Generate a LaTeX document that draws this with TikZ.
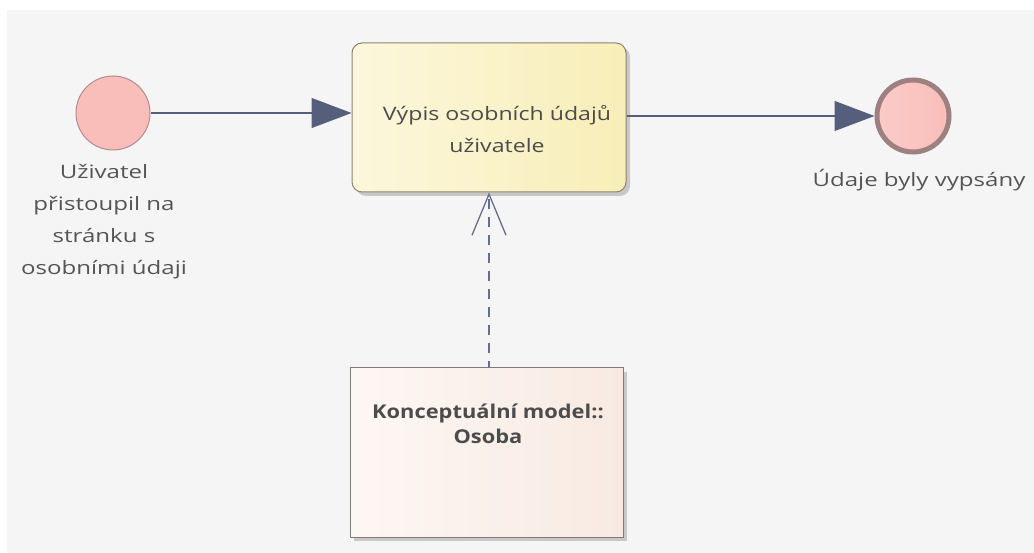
\documentclass[tikz,border=0pt]{standalone}
\usepackage{fontspec}
\setmainfont{Open Sans}
\newfontfamily\widefont[FakeStretch=1.3]{Open Sans}
\newfontfamily\taskfont[FakeStretch=1.25]{Open Sans}
\newfontfamily\datafont[FakeStretch=1.15]{Open Sans}
\usetikzlibrary{arrows.meta,shadows}
\definecolor{panel}{HTML}{F5F5F5}
\definecolor{flow}{HTML}{555F7C}
\definecolor{evfill}{HTML}{F9BEBA}
\definecolor{evline}{HTML}{B08C8C}
\definecolor{endline}{HTML}{9E8080}
\definecolor{taskA}{HTML}{FCF7DC}
\definecolor{taskB}{HTML}{F8EEB8}
\definecolor{taskline}{HTML}{8E8272}
\definecolor{dataA}{HTML}{FDF7F4}
\definecolor{dataB}{HTML}{F8EAE2}
\definecolor{dataline}{HTML}{857878}
\definecolor{txt}{HTML}{555555}
\tikzset{
  event/.style={circle, minimum size=74pt, inner sep=0pt, fill=evfill, draw=evline, line width=1pt},
  endevent/.style={circle, minimum size=72pt, inner sep=0pt, left color=evfill!80!white, right color=evfill, draw=endline, line width=5pt},
  task/.style={rectangle, rounded corners=10pt, minimum width=274pt, minimum height=149pt,
    left color=taskA, right color=taskB, draw=taskline, line width=1pt,
    drop shadow={shadow xshift=4pt, shadow yshift=-4pt, fill=black, opacity=0.18}},
  dataobj/.style={rectangle, minimum width=273pt, minimum height=169pt,
    left color=dataA, right color=dataB, draw=dataline, line width=1pt,
    drop shadow={shadow xshift=4pt, shadow yshift=-4pt, fill=black, opacity=0.18}},
  label/.style={text=txt, font=\widefont\fontsize{18.5}{32}\selectfont, align=center},
  seqflow/.style={draw=flow, line width=1.2pt, -{Triangle[length=40pt, width=30pt, fill=flow]}},
  assoc/.style={draw=flow!90, line width=1.3pt, dash pattern=on 10pt off 8pt,
    -{Straight Barb[length=41pt, width=34pt, line width=1.3pt]}}
}
\begin{document}
\begin{tikzpicture}[x=1pt, y=-1pt]
  \useasboundingbox (0,0) rectangle (1034,553);
  \fill[white] (0,0) rectangle (1034,553);
  \fill[panel] (7,10) rectangle (1034,553);

  % start event and its label
  \node[event] (start) at (113,113) {};
  \node[label, anchor=north] (startlbl) at (104,161)
    {Uživatel\\přistoupil na\\stránku s\\osobními údaji};

  % task
  \node[task] (task) at (489,117.5) {};
  \node[label, text=black!70, font=\taskfont\fontsize{18.5}{32}\selectfont] (tasklbl) at (497,129)
    {Výpis osobních údajů\\uživatele};

  % end event and its label
  \node[endevent] (end) at (913,116) {};
  \node[label, anchor=north] (endlbl) at (919,166) {Údaje byly vypsány};

  % data object
  \node[dataobj] (data) at (486.5,452.5) {};
  \node[label, text=black!70, font=\datafont\fontsize{19}{25}\selectfont\bfseries] (datalbl) at (488,424)
    {Konceptuální model::\\Osoba};

  % connectors
  \draw[seqflow] (start.east) -- (task.west |- start.east);
  \draw[seqflow] (task.east |- end.west) -- (end.west);
  \draw[assoc, dash phase=4pt] (data.north -| 489,0) -- (task.south -| 489,0);
\end{tikzpicture}
\end{document}
